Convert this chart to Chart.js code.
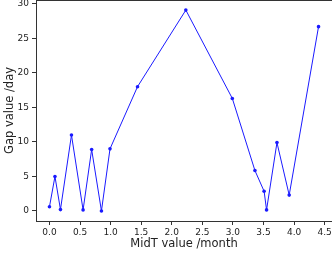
<!DOCTYPE html>
<html>
<head>
<meta charset="utf-8">
<script src="https://cdn.jsdelivr.net/npm/chart.js@4/dist/chart.umd.min.js"></script>
<style>
  html, body { margin: 0; padding: 0; background: #fff; }
</style>
</head>
<body>
<canvas id="chart" width="332" height="257"></canvas>
<script>
"use strict"

// values
const midT = [0.0, 0.09, 0.18, 0.36, 0.55, 0.69, 0.85, 0.99, 1.44, 2.23, 2.99, 3.36, 3.51, 3.55, 3.72, 3.92, 4.40]
const gap  = [0.6, 5.0, 0.2, 11.0, 0.15, 8.9, 0.0, 9.0, 18.0, 29.1, 16.3, 5.85, 2.85, 0.15, 9.9, 2.3, 26.7]

const xTitle = "MidT value /month"
const yTitle = "Gap value /day"

const font = { family: "DejaVu Sans", size: 9 }
const titleFont = { family: "DejaVu Sans", size: 11.5 }
const ink = "#222"

// matplotlib-like frame: left, bottom and top spines
const framePlugin = {
  id: "frame",
  afterDraw: chart => {
    const { ctx, chartArea: a } = chart
    ctx.save()
    ctx.strokeStyle = "#333"
    ctx.lineWidth = 1
    ctx.beginPath()
    ctx.moveTo(a.left, a.top + 0.5)
    ctx.lineTo(a.right, a.top + 0.5)
    ctx.stroke()
    ctx.restore()
  }
}

// keep the plot box fixed, no auto padding from the tick labels
const noPad = s => { s.paddingLeft = 0; s.paddingRight = 0; s.paddingTop = 0; s.paddingBottom = 0 }

new Chart("chart", {
  type: "line",
  data: {
    datasets: [{
      data: midT.map((x, i) => ({ x: x, y: gap[i] })),
      borderColor: "#1a1aff",
      backgroundColor: "#1a1aff",
      borderWidth: 1,
      pointRadius: 1.8,
      pointBorderWidth: 0,
      tension: 0
    }]
  },
  options: {
    responsive: false,
    animation: false,
    events: [],
    layout: { autoPadding: false, padding: 0 },
    plugins: { legend: { display: false }, tooltip: { enabled: false } },
    scales: {
      x: {
        type: "linear",
        min: -0.22, max: 4.62,
        border: { display: true, color: "#333", width: 1 },
        grid: { drawOnChartArea: false, drawTicks: true, tickLength: 4, color: "#333" },
        ticks: { stepSize: 0.5, includeBounds: false, color: ink, font: font, padding: 2,
          maxRotation: 0, callback: v => v.toFixed(1) },
        title: { display: true, text: xTitle, color: ink, font: titleFont, padding: { top: 0, bottom: 6 } },
        afterFit: s => { s.height = 36; noPad(s) }
      },
      y: {
        min: -1.455, max: 30.56,
        border: { display: true, color: "#333", width: 1 },
        grid: { drawOnChartArea: false, drawTicks: true, tickLength: 4, color: "#333" },
        ticks: { stepSize: 5, includeBounds: false, color: ink, font: font, padding: 3 },
        title: { display: true, text: yTitle, color: ink, font: titleFont, padding: { top: 3, bottom: 0 } },
        afterFit: s => { s.width = 36; noPad(s) }
      }
    }
  },
  plugins: [framePlugin]
})
</script>
</body>
</html>
